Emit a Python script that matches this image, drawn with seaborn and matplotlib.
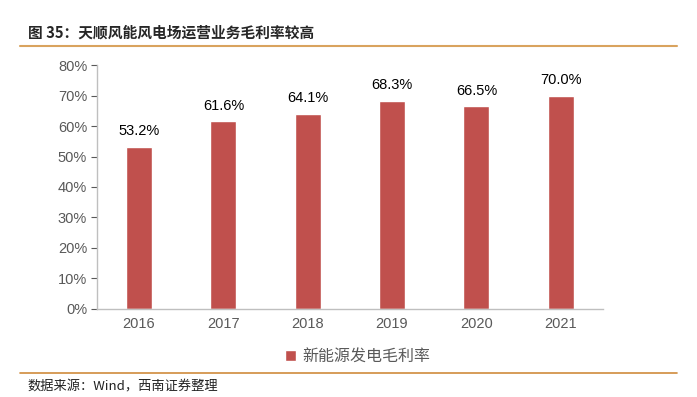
import matplotlib
matplotlib.use("Agg")
import matplotlib.pyplot as plt
import seaborn as sns
import pandas as pd
from matplotlib.ticker import FuncFormatter

years = ["2016", "2017", "2018", "2019", "2020", "2021"]
margins = [53.2, 61.6, 64.1, 68.3, 66.5, 70.0]
series_name = "新能源发电毛利率"
title_text = "图 35：天顺风能风电场运营业务毛利率较高"
source_text = "数据来源：Wind，西南证券整理"

BAR_COLOR = "#C0504D"
GREY = "#595959"
LINE_COLOR = "#D9A35E"

sns.set_style("white")
plt.rcParams["font.family"] = ["Liberation Sans", "Noto Sans CJK SC", "DejaVu Sans"]

df = pd.DataFrame({"year": years, "margin": margins})

fig = plt.figure(figsize=(6.97, 3.97), dpi=100)
ax = fig.add_axes([0.139, 0.222, 0.726, 0.614])

sns.barplot(data=df, x="year", y="margin", color=BAR_COLOR, width=0.31,
            saturation=1, label=series_name, ax=ax)

ax.bar_label(ax.containers[0], fmt="%.1f%%", padding=6, fontsize=10.5, color="black")

ax.set_ylim(0, 80)
ax.set_yticks(range(0, 81, 10))
ax.yaxis.set_major_formatter(FuncFormatter(lambda v, _: f"{v:.0f}%"))
ax.set_xlabel("")
ax.set_ylabel("")
ax.tick_params(axis="y", colors=GREY, labelsize=10.5, length=4, width=0.8,
               direction="out", left=True, pad=3)
ax.tick_params(axis="x", colors=GREY, labelsize=10.5, length=0, pad=6)
for s in ["top", "right"]:
    ax.spines[s].set_visible(False)
for s in ["left", "bottom"]:
    ax.spines[s].set_color("#BFBFBF")
    ax.spines[s].set_linewidth(1)

ax.legend(loc="center", bbox_to_anchor=(0.513, 0.101), bbox_transform=fig.transFigure,
          frameon=False, fontsize=11.5, handlelength=0.7, handleheight=0.7,
          handletextpad=0.4, labelcolor=GREY)

# header and footer
fig.text(0.040, 0.918, title_text, fontsize=10.6, fontweight="bold",
         family=["Noto Sans CJK SC"], va="center", ha="left")
fig.add_artist(plt.Line2D([0.029, 0.971], [0.884, 0.884], color=LINE_COLOR, lw=1.5))
fig.add_artist(plt.Line2D([0.029, 0.971], [0.060, 0.060], color="#D08B3C", lw=1.2))
fig.text(0.040, 0.025, source_text, fontsize=9.5, style="italic",
         family=["Noto Sans CJK SC", "DejaVu Sans"], va="center", ha="left", color="#222222")

fig.savefig("out.png", dpi=100)
